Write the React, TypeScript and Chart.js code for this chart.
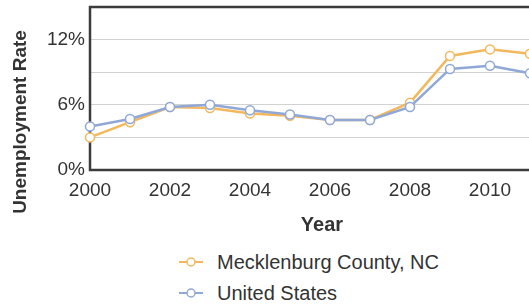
import React, { useEffect, useRef } from "react";
import { Chart, registerables } from "chart.js";

Chart.register(...registerables);

const years = [2000, 2001, 2002, 2003, 2004, 2005, 2006, 2007, 2008, 2009, 2010, 2011];
const mecklenburg = [3.0, 4.4, 5.8, 5.7, 5.2, 5.0, 4.6, 4.6, 6.2, 10.5, 11.1, 10.7];
const unitedStates = [4.0, 4.7, 5.8, 6.0, 5.5, 5.1, 4.6, 4.6, 5.8, 9.3, 9.6, 8.9];
const xTickYears = [2000, 2002, 2004, 2006, 2008, 2010];
const seriesNames = ["Mecklenburg County, NC", "United States"];
const seriesColors = ["#f4b85c", "#8fa8d8"];
const yTitle = "Unemployment Rate";
const xTitle = "Year";

const FONT = "'Liberation Sans', Arial, sans-serif";

const framePlugin = {
  id: "frame",
  beforeDatasetsDraw(chart: any) {
    const { ctx, chartArea } = chart;
    ctx.save();
    ctx.strokeStyle = "#3c3c3c";
    ctx.lineWidth = 2.5;
    ctx.strokeRect(chartArea.left, chartArea.top, chartArea.right - chartArea.left + 10, chartArea.bottom - chartArea.top);
    ctx.restore();
  },
  afterDraw(chart: any) {
    const { ctx } = chart;
    ctx.save();
    ctx.translate(21, 122);
    ctx.rotate(-Math.PI / 2);
    ctx.font = "bold 19px " + FONT;
    ctx.fillStyle = "#333";
    ctx.textAlign = "center";
    ctx.textBaseline = "middle";
    ctx.fillText(yTitle, 0, 0);
    ctx.restore();
  },
};

function LegendMarker({ color }: { color: string }) {
  return (
    <svg width="24" height="12" style={{ display: "block" }}>
      <line x1="0" y1="6" x2="24" y2="6" stroke={color} strokeWidth="2" />
      <circle cx="12" cy="6" r="4" fill="#fff" stroke={color} strokeWidth="1.5" />
    </svg>
  );
}

export default function App() {
  const ref = useRef<HTMLCanvasElement>(null);
  useEffect(() => {
    if (!ref.current) return;
    const mk = (vals: number[], i: number) => ({
      label: seriesNames[i],
      data: years.map((y, k) => ({ x: y, y: vals[k] })),
      borderColor: seriesColors[i],
      backgroundColor: "#ffffff",
      pointBackgroundColor: "#ffffff",
      pointBorderColor: seriesColors[i],
      pointRadius: 4.5,
      pointBorderWidth: 1.5,
      borderWidth: 2.5,
      tension: 0,
      clip: false as any,
      order: i === 0 ? 1 : 0,
    });
    const chart = new Chart(ref.current, {
      type: "line",
      data: { datasets: [mk(mecklenburg, 0), mk(unitedStates, 1)] },
      options: {
        animation: false,
        responsive: false,
        layout: { padding: { top: 7, left: 0, right: 0, bottom: 0 } },
        plugins: { legend: { display: false }, tooltip: { enabled: false } },
        scales: {
          x: {
            type: "linear",
            min: 2000,
            max: 2011.6,
            afterFit: (s: any) => { s.height = 70; s.paddingLeft = 0; s.paddingRight = 0; },
            afterBuildTicks: (s: any) => { s.ticks = xTickYears.map((v) => ({ value: v })); },
            grid: { display: false, drawTicks: false },
            border: { display: false },
            ticks: {
              autoSkip: false,
              padding: 9,
              color: "#333",
              font: { family: FONT, size: 19 },
              maxRotation: 0,
              callback: (v: any) => String(v),
            },
            title: {
              display: true,
              text: xTitle,
              color: "#333",
              font: { family: FONT, size: 20, weight: "bold" },
              padding: { top: 0, bottom: 3 },
            },
          },
          y: {
            min: 0,
            max: 15,
            afterFit: (s: any) => { s.width = 90; s.paddingTop = 0; s.paddingBottom = 0; },
            grid: { color: "#d2d2d2", lineWidth: 1, drawTicks: false },
            border: { display: false },
            ticks: {
              stepSize: 3,
              padding: 5,
              color: "#333",
              font: { family: FONT, size: 19 },
              callback: (v: any) => (Number(v) % 6 === 0 ? v + "%" : ""),
            },
          },
        },
      },
      plugins: [framePlugin],
    });
    return () => chart.destroy();
  }, []);

  return (
    <div style={{ position: "absolute", left: 0, top: 0, width: 529, height: 305, overflow: "hidden", background: "#fff" }}>
      <canvas ref={ref} width={560} height={240} style={{ position: "absolute", left: 0, top: 0, width: 560, height: 240 }} />
      {seriesNames.map((name, i) => (
        <div
          key={name}
          style={{
            position: "absolute",
            left: 179,
            top: i === 0 ? 251 : 282,
            height: 22,
            display: "flex",
            alignItems: "center",
            fontFamily: FONT,
            fontSize: 20,
            color: "#333",
            whiteSpace: "nowrap",
          }}
        >
          <LegendMarker color={seriesColors[i]} />
          <span style={{ marginLeft: 14 }}>{name}</span>
        </div>
      ))}
    </div>
  );
}
